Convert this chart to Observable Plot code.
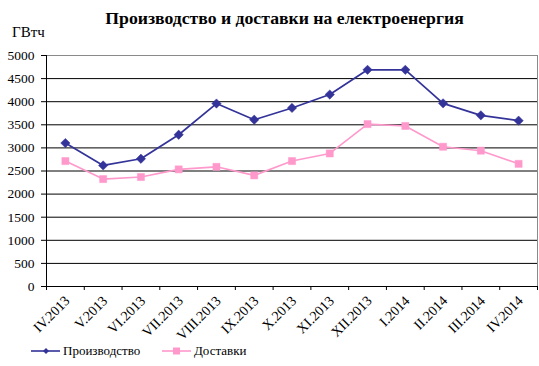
<!DOCTYPE html>
<html>
<head>
<meta charset="utf-8">
<script src="https://cdn.jsdelivr.net/npm/d3@7"></script>
<script src="https://cdn.jsdelivr.net/npm/@observablehq/plot@0.6"></script>
<style>
  body { margin: 0; background: #fff; }
  #wrap { position: relative; width: 539px; height: 366px; font-family: 'Liberation Serif'; overflow: hidden; }
  #title { position: absolute; left: 0; width: 569px; top: 8px; text-align: center; font-weight: bold; font-size: 17.7px; color: #000; white-space: nowrap; font-family: 'Liberation Serif'; z-index: 2; }
  #unit { position: absolute; left: 12px; top: 24px; font-size: 15px; color: #000; font-family: 'Liberation Serif'; z-index: 2; }
  #chart { position: absolute; left: 0; top: 40px; }
  #chart svg text { font-family: 'Liberation Serif'; }
  .leg { position: absolute; top: 343px; font-size: 13px; color: #000; white-space: nowrap; display: flex; align-items: center; font-family: 'Liberation Serif'; z-index: 2; }
  .leg svg { margin-right: 2px; }
</style>
</head>
<body>
<div id="wrap">
  <div id="chart"></div>
  <div id="title">Производство и доставки на електроенергия</div>
  <div id="unit">ГВтч</div>
  <div class="leg" id="leg1" style="left:31px"></div>
  <div class="leg" id="leg2" style="left:162px"></div>
</div>
<script>
const months = ["IV.2013","V.2013","VI.2013","VII.2013","VIII.2013","IX.2013","X.2013","XI.2013","XII.2013","I.2014","II.2014","III.2014","IV.2014"];
const production = [3105, 2620, 2765, 3285, 3960, 3610, 3865, 4155, 4690, 4690, 3965, 3705, 3590];
const deliveries = [2715, 2325, 2370, 2535, 2590, 2405, 2715, 2880, 3515, 3475, 3025, 2940, 2655];
const yTicks = [0, 500, 1000, 1500, 2000, 2500, 3000, 3500, 4000, 4500, 5000];
const seriesNames = ["Производство", "Доставки"];
const colors = ["#333399", "#FF99CC"];

const rows = [];
months.forEach((m, i) => {
  rows.push({month: m, i, series: seriesNames[0], value: production[i]});
  rows.push({month: m, i, series: seriesNames[1], value: deliveries[i]});
});
const prodRows = rows.filter(d => d.series === seriesNames[0]);
const delRows = rows.filter(d => d.series === seriesNames[1]);

const chart = Plot.plot({
  width: 539,
  height: 300,
  marginTop: 15,
  marginBottom: 54,
  marginLeft: 46,
  marginRight: 2,
  style: {fontFamily: "'Liberation Serif'", fontSize: "13.5px", color: "#000", background: "transparent", overflow: "visible"},
  x: {type: "linear", domain: [0, months.length], axis: null},
  y: {domain: [0, 5000], axis: null},
  marks: [
    Plot.ruleY(yTicks.filter(v => v > 0 && v < 5000), {stroke: "#000", strokeWidth: 1}),
    Plot.frame({stroke: "#8a8a8a"}),
    Plot.ruleX([0], {stroke: "#000"}),
    Plot.ruleY([0], {stroke: "#000"}),
    Plot.axisY({ticks: yTicks, tickSize: 5, tickPadding: 7, tickFormat: d3.format("d"), label: null, stroke: "#000", fontSize: 13.5}),
    Plot.axisX({ticks: d3.range(months.length + 1), tickSize: 4, tickFormat: () => "", label: null, stroke: "#000"}),
    Plot.text(months, {x: (d, i) => i + 0.5, y: 0, text: d => d, rotate: -45, textAnchor: "end", dy: 12, dx: 2, fill: "#000", fontSize: 14}),
    Plot.line(prodRows, {x: d => d.i + 0.5, y: "value", stroke: colors[0], strokeWidth: 1.7}),
    Plot.line(delRows, {x: d => d.i + 0.5, y: "value", stroke: colors[1], strokeWidth: 1.6}),
    Plot.dot(prodRows, {x: d => d.i + 0.5, y: "value", symbol: "diamond2", r: 4.2, fill: colors[0], stroke: colors[0], strokeWidth: 0.5}),
    Plot.dot(delRows, {x: d => d.i + 0.5, y: "value", symbol: "square", r: 4, fill: colors[1], stroke: colors[1], strokeWidth: 0.5})
  ]
});
document.getElementById("chart").appendChild(chart);

function legend(el, name, color, sym) {
  const s = d3.select(el).append("svg").attr("width", 30).attr("height", 12);
  s.append("line").attr("x1", 0).attr("x2", 29).attr("y1", 6).attr("y2", 6).attr("stroke", color).attr("stroke-width", 1.6);
  if (sym === "diamond") {
    s.append("path").attr("d", "M15,3L18,6L15,9L12,6Z").attr("fill", color);
  } else {
    s.append("rect").attr("x", 11).attr("y", 2.5).attr("width", 7).attr("height", 7).attr("fill", color);
  }
  d3.select(el).append("span").text(name);
}
legend(document.getElementById("leg1"), seriesNames[0], colors[0], "diamond");
legend(document.getElementById("leg2"), seriesNames[1], colors[1], "square");
</script>
</body>
</html>
